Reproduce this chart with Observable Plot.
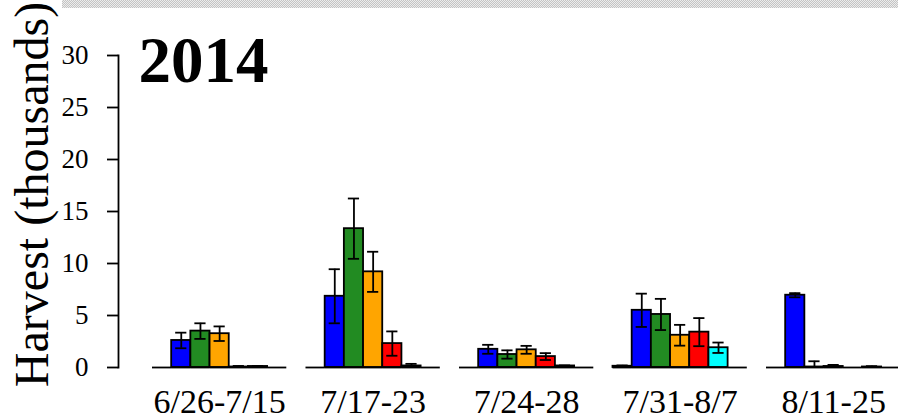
<!DOCTYPE html>
<html>
<head>
<meta charset="utf-8">
<script src="https://cdn.jsdelivr.net/npm/d3@7"></script>
<script src="https://cdn.jsdelivr.net/npm/@observablehq/plot@0.6"></script>
<style>
  html, body { margin: 0; padding: 0; background: white; overflow: hidden; }
  #wrap { position: relative; width: 898px; height: 420px; }
  #band { position: absolute; left: 62px; top: 0; width: 836px; height: 8px;
    background-image: repeating-conic-gradient(#c4c4c4 0 25%, #ececec 0 50%);
    background-size: 2px 2px; z-index: 2; }
</style>
</head>
<body>
<div id="wrap"><div id="band"></div></div>
<script>
// ---- data ----
const periods = ["6/26-7/15", "7/17-23", "7/24-28", "7/31-8/7", "8/11-25"];
const seriesNames = ["s1", "s2", "s3", "s4", "s5", "s6", "s7"];
const seriesColors = ["black", "blue", "forestgreen", "orange", "red", "cyan", "magenta"];

const meanS1 = [0, 0, 0, 0.12, 0];
const meanS2 = [2.6, 6.85, 1.75, 5.5, 6.95];
const meanS3 = [3.5, 13.35, 1.25, 5.1, 0.05];
const meanS4 = [3.25, 9.2, 1.7, 3.1, 0.1];
const meanS5 = [0.05, 2.3, 1.05, 3.4, 0];
const meanS6 = [0.1, 0.15, 0.15, 1.9, 0.05];
const meanS7 = [0, 0, 0, 0, 0];

const seS1 = [0, 0, 0, 0.08, 0];
const seS2 = [0.75, 2.6, 0.43, 1.6, 0.2];
const seS3 = [0.75, 2.9, 0.4, 1.5, 0.55];
const seS4 = [0.7, 1.93, 0.38, 1.0, 0.15];
const seS5 = [0.1, 1.17, 0.33, 1.35, 0];
const seS6 = [0.05, 0.2, 0.05, 0.5, 0.08];
const seS7 = [0, 0, 0, 0, 0];

const yTicks = [0, 5, 10, 15, 20, 25, 30];
const yTitle = "Harvest (thousands)";
const yearTitle = "2014";

// ---- build table ----
const means = [meanS1, meanS2, meanS3, meanS4, meanS5, meanS6, meanS7];
const ses = [seS1, seS2, seS3, seS4, seS5, seS6, seS7];
const rows = [];
const keys = [];
periods.forEach((p, gi) => {
  keys.push(p + "|gap");
  seriesNames.forEach((s, si) => {
    const key = p + "|" + s;
    keys.push(key);
    rows.push({period: p, series: s, key, value: means[si][gi], se: ses[si][gi]});
  });
});
const errRows = rows.filter(d => d.se > 0);
const centerKeys = periods.map(p => p + "|s4");
const keyToPeriod = new Map(periods.map(p => [p + "|s4", p]));

const chart = Plot.plot({
  width: 898,
  height: 420,
  marginLeft: 118,
  marginRight: 0,
  marginTop: 55,
  marginBottom: 53,
  x: {domain: keys, range: [132.8, 900.3], padding: 0, round: false},
  y: {domain: [0, 30]},
  color: {domain: seriesNames, range: seriesColors},
  style: {fontFamily: "'Liberation Serif', serif", background: "white", color: "black", overflow: "visible"},
  marks: [
    Plot.barY(rows, {x: "key", y: "value", fill: "series", stroke: "black", strokeWidth: 1.8}),
    Plot.tickY(rows, {x: "key", y: 0, stroke: "black", strokeWidth: 1.8}),
    Plot.ruleX(errRows, {x: "key", y1: d => d.value - d.se, y2: d => d.value + d.se, stroke: "black", strokeWidth: 1.8, clip: true}),
    Plot.tickY(errRows, {x: "key", y: d => d.value + d.se, inset: 4, stroke: "black", strokeWidth: 1.8, clip: true}),
    Plot.tickY(errRows, {x: "key", y: d => d.value - d.se, inset: 4, stroke: "black", strokeWidth: 1.8, clip: true}),
    Plot.frame({anchor: "left", stroke: "black", strokeWidth: 1.8}),
    Plot.axisY({ticks: yTicks, tickSize: 11, tickPadding: 19, fontSize: 27, label: null, strokeWidth: 1.8}),
    Plot.axisX({ticks: centerKeys, tickFormat: k => keyToPeriod.get(k), tickSize: 0, tickPadding: 21, fontSize: 34, label: null}),
    Plot.text([yTitle], {frameAnchor: "left", rotate: -90, dx: -71, dy: -17, fontSize: 48, textAnchor: "middle", lineAnchor: "bottom", fill: "black"}),
    Plot.text([yearTitle], {frameAnchor: "top-left", dx: 20, dy: -20, fontSize: 65, fontWeight: "bold", textAnchor: "start", lineAnchor: "top", fill: "black"})
  ]
});
document.getElementById("wrap").appendChild(chart);
chart.style.position = "absolute";
chart.style.left = "0";
chart.style.top = "0";
</script>
</body>
</html>
